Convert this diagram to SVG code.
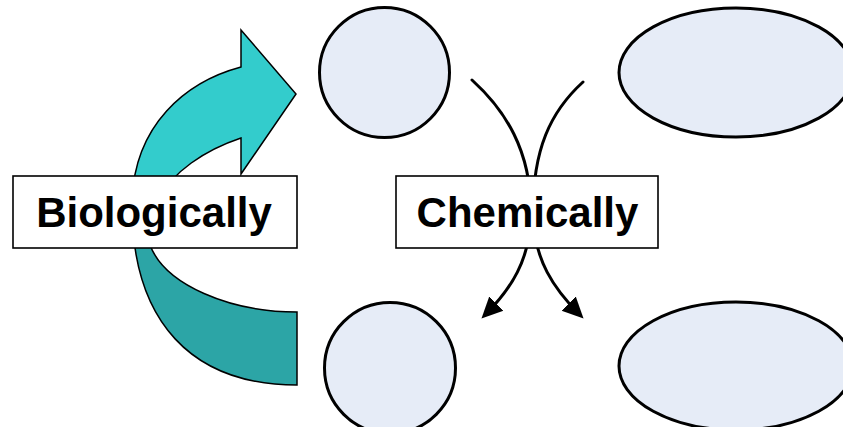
<svg xmlns="http://www.w3.org/2000/svg" width="843" height="427" viewBox="0 0 843 427">
  <style>
    .state { fill: #E6ECF7; stroke: #000; stroke-width: 3; }
    .label-box { fill: #fff; stroke: #000; stroke-width: 1.6; }
    .label { font-family: "Liberation Sans", Arial, sans-serif; font-weight: bold; font-size: 42px; fill: #000; text-anchor: middle; }
    .flow { fill: none; stroke: #000; stroke-width: 3; stroke-linecap: round; }
    .band { stroke: #000; stroke-width: 1.5; stroke-linejoin: miter; }
  </style>
  <defs>
    <marker id="head" viewBox="0 -11 22 22" refX="16" refY="0" markerWidth="22" markerHeight="22" markerUnits="userSpaceOnUse" orient="auto">
      <path d="M0,-10 L21,0 L0,10 Z" fill="#000"/>
    </marker>
  </defs>

  <!-- curved block arrow: lower (back) band and upper band with head -->
  <g id="cycle-arrow">
    <path class="band" fill="#2CA5A6" d="M132,205 C132,322 192,385 297,385 L297,312 C230,312 165,285 150,245 L148,205 Z"/>
    <path class="band" fill="#33CCCC" d="M132,215 L132,200 C135,125 185,82 241,67 L241,30 L296,94 L241,174 L241,138 C205,150 172,172 158,200 L150,215 Z"/>
  </g>

  <!-- crossing reaction arrows -->
  <g id="connectors">
    <path class="flow" marker-end="url(#head)" d="M472,80 C505,110 531,150 531,212 C531,260 510,290 485,315"/>
    <path class="flow" marker-end="url(#head)" d="M583,82 C550,112 533,150 533,212 C533,260 555,290 580,315"/>
  </g>

  <g id="circle-top">
    <circle class="state" cx="384.5" cy="72.5" r="65"/>
  </g>
  <g id="circle-bottom">
    <circle class="state" cx="390" cy="368" r="65.5"/>
  </g>
  <g id="ellipse-top">
    <ellipse class="state" cx="736" cy="72.5" rx="117" ry="64.5"/>
  </g>
  <g id="ellipse-bottom">
    <ellipse class="state" cx="736" cy="366" rx="117" ry="64"/>
  </g>

  <g id="biologically">
    <rect class="label-box" x="13" y="176" width="284" height="72"/>
    <text class="label" x="154" y="227">Biologically</text>
  </g>
  <g id="chemically">
    <rect class="label-box" x="396" y="176" width="262" height="72"/>
    <text class="label" x="527.5" y="227">Chemically</text>
  </g>
</svg>
